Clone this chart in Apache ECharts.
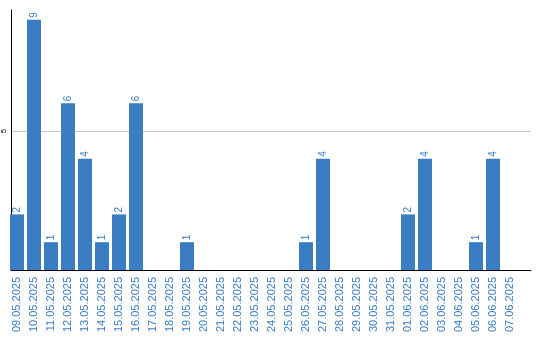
<!DOCTYPE html>
<html>
<head>
<meta charset="utf-8">
<script src="https://cdn.jsdelivr.net/npm/echarts@6/dist/echarts.min.js"></script>
<style>
  html, body { margin: 0; padding: 0; background: #fff; }
  #chart { width: 540px; height: 340px; }
</style>
</head>
<body>
<div id="chart"></div>
<script>
// Daily counts, 09.05.2025 – 07.06.2025
const days = [
  '09.05.2025', '10.05.2025', '11.05.2025', '12.05.2025', '13.05.2025',
  '14.05.2025', '15.05.2025', '16.05.2025', '17.05.2025', '18.05.2025',
  '19.05.2025', '20.05.2025', '21.05.2025', '22.05.2025', '23.05.2025',
  '24.05.2025', '25.05.2025', '26.05.2025', '27.05.2025', '28.05.2025',
  '29.05.2025', '30.05.2025', '31.05.2025', '01.06.2025', '02.06.2025',
  '03.06.2025', '04.06.2025', '05.06.2025', '06.06.2025', '07.06.2025'
];
const counts = [
  2, 9, 1, 6, 4, 1, 2, 6, 0, 0,
  1, 0, 0, 0, 0, 0, 0, 1, 4, 0,
  0, 0, 0, 2, 4, 0, 0, 1, 4, 0
];
const yTickLabels = ['5'];

const BLUE = '#3b7dc2';
const Y_MAX = 9.35;
const FONT = 'Liberation Sans, Arial, sans-serif';

const chart = echarts.init(document.getElementById('chart'), null, { renderer: 'canvas' });

chart.setOption({
  animation: false,
  backgroundColor: '#fff',
  grid: [
    // frame: axis lines and the reference line at 5
    { left: 10, right: 9, top: 10, bottom: 70, containLabel: false },
    // bars and date labels
    { left: 8.5, width: 510, top: 10, bottom: 70, containLabel: false }
  ],
  xAxis: [
    {
      gridIndex: 0, type: 'value', min: 0, max: 1,
      axisLine: { show: true, onZero: false, lineStyle: { color: '#000', width: 1 } },
      axisTick: { show: false }, axisLabel: { show: false }, splitLine: { show: false }
    },
    {
      gridIndex: 1, type: 'category', data: days,
      axisLine: { show: false }, axisTick: { show: false },
      axisLabel: {
        interval: 0, rotate: 90, color: BLUE, fontFamily: FONT, fontSize: 11, margin: 7
      }
    }
  ],
  yAxis: [
    {
      gridIndex: 0, type: 'value', min: 0, max: Y_MAX, interval: 5,
      axisLine: { show: true, lineStyle: { color: '#000', width: 1 } },
      axisTick: { show: false },
      axisLabel: {
        color: '#000', fontFamily: FONT, fontSize: 8, rotate: 90, margin: 3,
        formatter: v => (yTickLabels.includes(String(v)) ? String(v) : '')
      },
      splitLine: {
        show: true,
        lineStyle: { color: ['rgba(0,0,0,0)', '#c8c8c8', 'rgba(0,0,0,0)'], width: 1 }
      }
    },
    {
      gridIndex: 1, type: 'value', min: 0, max: Y_MAX, show: false,
      splitLine: { show: false }
    }
  ],
  series: [
    {
      type: 'bar',
      xAxisIndex: 1, yAxisIndex: 1,
      data: counts.map(v => (v > 0 ? v : null)),
      barWidth: 14,
      itemStyle: { color: BLUE },
      label: {
        show: true, position: 'top', rotate: 90, align: 'left', verticalAlign: 'middle',
        distance: 2, color: BLUE, fontFamily: FONT, fontSize: 10
      }
    }
  ]
});
</script>
</body>
</html>
